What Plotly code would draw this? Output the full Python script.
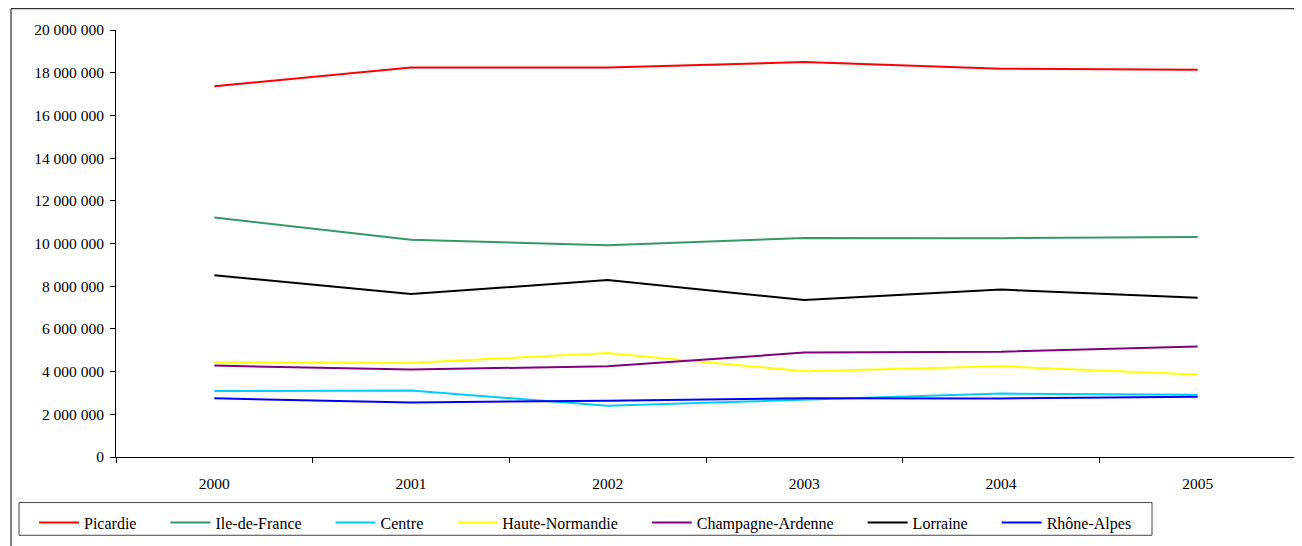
import plotly.graph_objects as go

years = ["2000", "2001", "2002", "2003", "2004", "2005"]

picardie = [17370000, 18240000, 18240000, 18500000, 18190000, 18140000]
ile_de_france = [11220000, 10180000, 9920000, 10260000, 10250000, 10300000]
centre = [3090000, 3110000, 2400000, 2680000, 2970000, 2920000]
haute_normandie = [4440000, 4410000, 4870000, 4020000, 4250000, 3870000]
champagne_ardenne = [4280000, 4100000, 4250000, 4890000, 4930000, 5180000]
lorraine = [8510000, 7630000, 8290000, 7350000, 7840000, 7460000]
rhone_alpes = [2750000, 2550000, 2640000, 2750000, 2740000, 2820000]

series_names = ["Picardie", "Ile-de-France", "Centre", "Haute-Normandie",
                "Champagne-Ardenne", "Lorraine", "Rhône-Alpes"]
series_values = [picardie, ile_de_france, centre, haute_normandie,
                 champagne_ardenne, lorraine, rhone_alpes]
series_colors = ["#FF0000", "#339966", "#00CCFF", "#FFFF00",
                 "#800080", "#000000", "#0000FF"]

y_ticks = list(range(0, 20000001, 2000000))

PAD = "\u00a0" * 6

fig = go.Figure()
n = len(series_names)
for i, (name, vals, col) in enumerate(zip(series_names, series_values, series_colors)):
    label = name + (PAD if i < n - 1 else "")
    fig.add_trace(go.Scatter(x=years, y=vals, name=label, mode="lines",
                             line=dict(color=col, width=2)))

font_family = "Liberation Serif, Times New Roman, serif"

# page pixel -> paper coordinate helpers (plot area 116..1296 x 30..461 on page)
def px(x):
    return (x - 116) / 1180

def py(y):
    return (461 - y) / 431

fig.update_layout(
    width=1294, height=538,
    margin=dict(l=108, r=6, t=22, b=85),
    paper_bgcolor="white", plot_bgcolor="white",
    font=dict(family=font_family, size=15.5, color="black"),
    separators=", ",
    showlegend=True,
    legend=dict(
        orientation="h",
        x=px(34), xanchor="left",
        y=py(510), yanchor="top",
        borderwidth=0,
        bgcolor="rgba(0,0,0,0)",
        font=dict(family=font_family, size=16, color="black"),
        itemwidth=40,
        traceorder="normal",
    ),
    xaxis=dict(
        type="category",
        range=[-0.5, 5.5],
        showgrid=False, zeroline=False,
        showline=True, linecolor="black", linewidth=1,
        ticks="outside", ticklen=5, tickcolor="black", tickwidth=1,
        tickson="boundaries",
        ticklabelstandoff=12,
        tickfont=dict(family=font_family, size=15.5),
    ),
    yaxis=dict(
        range=[0, 20000000],
        tickvals=y_ticks,
        tickformat=",d",
        showgrid=False, zeroline=False,
        showline=True, linecolor="black", linewidth=1,
        ticks="outside", ticklen=5, tickcolor="black", tickwidth=1,
        ticklabelstandoff=3,
        tickfont=dict(family=font_family, size=15.5),
    ),
    shapes=[
        dict(type="rect", xref="paper", yref="paper",
             x0=px(11), x1=px(1320), y0=py(560), y1=py(8.5),
             line=dict(color="black", width=1), fillcolor="rgba(0,0,0,0)",
             layer="below"),
        dict(type="rect", xref="paper", yref="paper",
             x0=px(19), x1=px(1152), y0=py(540), y1=py(507),
             line=dict(color="#444444", width=1), fillcolor="white",
             layer="below"),
    ],
)

fig.write_html("out.html")
